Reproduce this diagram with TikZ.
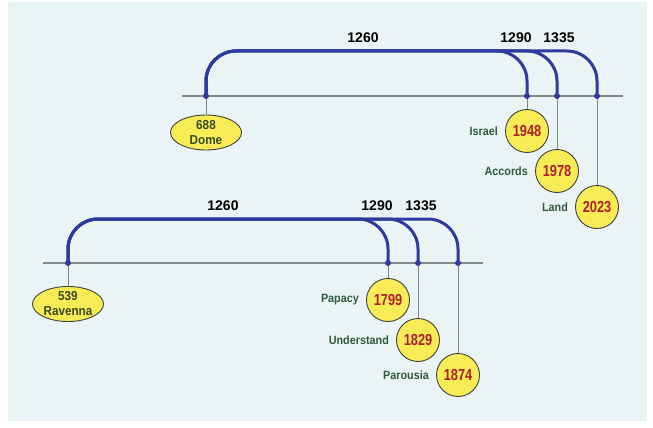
\documentclass[tikz,border=0pt]{standalone}
\usepackage{fontspec}
\setmainfont{Liberation Sans}
\newfontfamily\narrowsf[FakeStretch=0.8]{Liberation Sans}
\newfontfamily\slimsf[FakeStretch=0.9]{Liberation Sans}
\usetikzlibrary{shapes.geometric,positioning}
\definecolor{bgblue}{HTML}{EAF4F5}
\definecolor{axisgray}{HTML}{7F8A8A}
\definecolor{spanblue}{HTML}{2E3A9E}
\definecolor{yearyellow}{HTML}{F7EC55}
\definecolor{yearred}{HTML}{B0202A}
\definecolor{taggreen}{HTML}{2F5A3E}
\definecolor{startolive}{HTML}{3A4A22}

\begin{document}
\begin{tikzpicture}
  [x=1pt, y=-1pt,
   axis/.style={draw=axisgray, line width=1.5pt},
   stem/.style={draw=axisgray, line width=0.9pt},
   span/.style={draw=spanblue, line width=3pt, rounded corners=30pt},
   year/.style={circle, draw=black!75, fill=yearyellow, line width=0.9pt,
     minimum size=43pt, inner sep=0pt, text=yearred,
     font=\narrowsf\fontsize{16}{16}\selectfont\bfseries},
   start/.style={ellipse, draw=black!75, fill=yearyellow, line width=0.9pt,
     minimum width=71pt, minimum height=35pt, inner sep=0pt, align=center,
     text=startolive, font=\slimsf\fontsize{13}{15}\selectfont\bfseries},
   tag/.style={text=taggreen, inner sep=1pt,
     font=\slimsf\fontsize{12}{12}\selectfont\bfseries},
   count/.style={font=\fontsize{14}{14}\selectfont\bfseries}]
  \useasboundingbox (0,0) rectangle (653,428);
  \fill [bgblue] (8,2) rectangle (647,421);

  \coordinate (topL) at (182,96);
  \coordinate (topR) at (623,96);
  \coordinate (t688) at (206,96);
  \coordinate (t1948) at (527,96);
  \coordinate (t1978) at (557,96);
  \coordinate (t2023) at (597,96);

  \node [name=s688, start] at (206,132.5) {688\\Dome};
  \node [name=y1948, year] at (527,131) {1948};
  \node [name=y1978, year] at (557,171) {1978};
  \node [name=y2023, year] at (597,207) {2023};
  \node [tag, left=6pt of y1948] {Israel};
  \node [tag, left=6pt of y1978] {Accords};
  \node [tag, left=6pt of y2023] {Land};
  \node [count] at (363,38) {1260};
  \node [count] at (516,38) {1290};
  \node [count] at (559,38) {1335};

  \draw [axis] (topL) -- (topR);
  \path [stem] (t688) -- (s688)
               (t1948) -- (y1948)
               (t1978) -- (y1978)
               (t2023) -- (y2023);
  \draw [span] (t688) -- ++(0,-45) -| (t2023);
  \draw [span] (t688) -- ++(0,-45) -| (t1978);
  \draw [span] (t688) -- ++(0,-45) -| (t1948);
  \foreach \t in {t688,t1948,t1978,t2023}
    \fill [spanblue] (\t) circle (3pt);

  \coordinate (lowL) at (43,263);
  \coordinate (lowR) at (483,263);
  \coordinate (t539) at (68,263);
  \coordinate (t1799) at (388,263);
  \coordinate (t1829) at (418,263);
  \coordinate (t1874) at (458,263);

  \node [name=s539, start] at (68,304) {539\\Ravenna};
  \node [name=y1799, year] at (388,300) {1799};
  \node [name=y1829, year] at (418,340) {1829};
  \node [name=y1874, year] at (458,375) {1874};
  \node [tag, left=6pt of y1799] {Papacy};
  \node [tag, left=6pt of y1829] {Understand};
  \node [tag, left=6pt of y1874] {Parousia};
  \node [count] at (223,206) {1260};
  \node [count] at (377,206) {1290};
  \node [count] at (421,206) {1335};

  \draw [axis] (lowL) -- (lowR);
  \path [stem] (t539) -- (s539)
               (t1799) -- (y1799)
               (t1829) -- (y1829)
               (t1874) -- (y1874);
  \draw [span] (t539) -- ++(0,-44) -| (t1874);
  \draw [span] (t539) -- ++(0,-44) -| (t1829);
  \draw [span] (t539) -- ++(0,-44) -| (t1799);
  \foreach \t in {t539,t1799,t1829,t1874}
    \fill [spanblue] (\t) circle (3pt);
\end{tikzpicture}
\end{document}
